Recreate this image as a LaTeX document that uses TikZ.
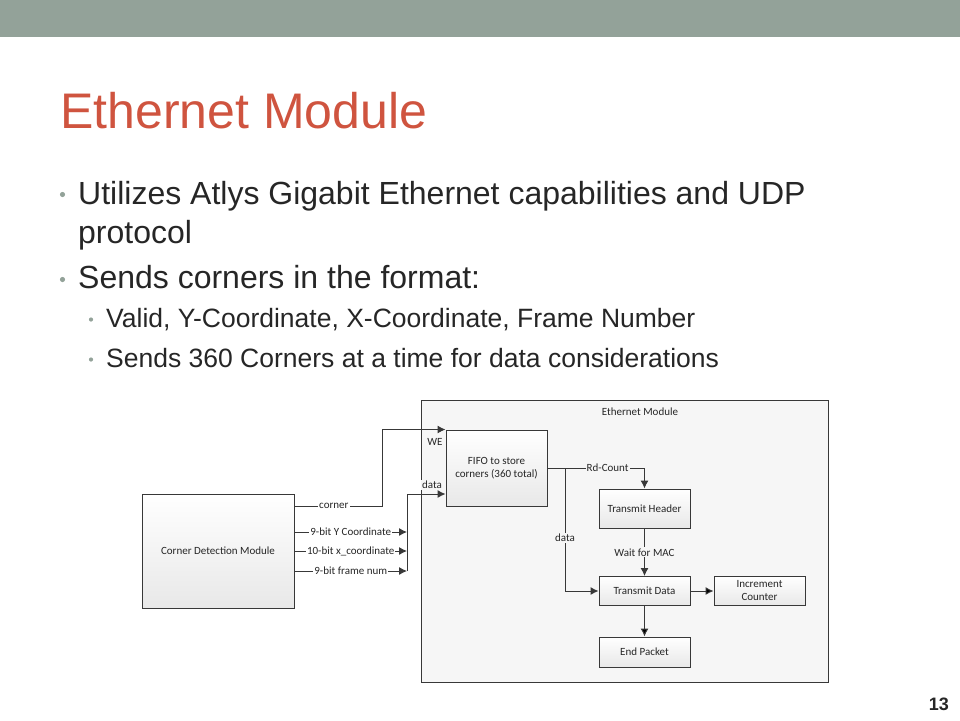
\documentclass[tikz,border=0pt]{standalone}
\usepackage{fontspec}
\setmainfont{Liberation Sans}
\newfontfamily\diagfont{Carlito}
\usetikzlibrary{arrows.meta}
\definecolor{barcol}{HTML}{93A299}
\definecolor{titlecol}{HTML}{CF543F}
\definecolor{txtcol}{HTML}{262626}
\definecolor{linecol}{HTML}{383838}
\definecolor{modfill}{HTML}{F6F6F6}

\begin{document}
\begin{tikzpicture}[x=1pt, y=-1pt,
    blk/.style={draw=linecol, line width=1pt, top color=white, bottom color=black!9,
        minimum width=91pt, minimum height=29pt, inner sep=1pt, align=center,
        font=\diagfont\fontsize{11}{13}\selectfont, text=txtcol},
    lbl/.style={fill=white, inner sep=1pt, font=\diagfont\fontsize{11}{13}\selectfont, text=txtcol},
    lbin/.style={lbl, fill=modfill},
    wire/.style={draw=linecol, line width=1pt},
    bul/.style={anchor=base west, inner sep=0pt, text=txtcol},
    >={Latex[length=8pt,width=8pt]}]
    \useasboundingbox (0,0) rectangle (960,720);
    \fill[barcol] (0,0) rectangle (960,37);

    \node[anchor=base west, inner sep=0pt, text=titlecol, font=\fontsize{50}{60}\selectfont] (title) at (60,128) {Ethernet Module};

    \fill[barcol] (62.5,194.5) circle (2.6);
    \node[bul, font=\fontsize{32}{39}\selectfont] (b1) at (78,204) {Utilizes Atlys Gigabit Ethernet capabilities and UDP};
    \node[bul, font=\fontsize{32}{39}\selectfont] (b1b) at (78,243) {protocol};
    \fill[barcol] (62.5,279.5) circle (2.6);
    \node[bul, font=\fontsize{32}{39}\selectfont] (b2) at (78,288) {Sends corners in the format:};
    \fill[barcol] (91,319.5) circle (2.1);
    \node[bul, font=\fontsize{26.5}{32}\selectfont] (s1) at (106,327) {Valid, Y-Coordinate, X-Coordinate, Frame Number};
    \fill[barcol] (91,359.5) circle (2.1);
    \node[bul, font=\fontsize{26.5}{32}\selectfont] (s2) at (106,367) {Sends 360 Corners at a time for data considerations};

    \node[anchor=base east, inner sep=0pt, text=txtcol, font=\bfseries\fontsize{18}{20}\selectfont] (pnum) at (949,710) {13};

    \node[draw=linecol, line width=1pt, fill=modfill, minimum width=407pt, minimum height=282pt] (eth) at (624.5,541) {};
    \node[lbin] (ethlbl) at (640,412) {Ethernet Module};

    \node[blk, minimum width=152pt, minimum height=114pt] (cdm) at (218,551) {Corner Detection Module};
    \node[blk, minimum width=101pt, minimum height=76pt] (fifo) at (496.5,468) {FIFO to store\\corners (360 total)};
    \node[blk, minimum height=39pt] (th) at (644.5,508.5) {Transmit Header};
    \node[blk] (td) at (644.5,591) {Transmit Data};
    \node[blk] (ic) at (759.5,591) {Increment\\Counter};
    \node[blk, minimum height=30pt] (ep) at (644.5,652) {End Packet};

    \coordinate (wejog) at (382,506);
    \coordinate (bust) at (407,494);
    \coordinate (busb) at (407,571);
    \coordinate (dsplit) at (565,468);

    \draw[wire, ->] (cdm.east |- wejog) -- node[lbl, pos=0.45] {corner} (wejog) |- (fifo.north west);
    \node[lbin] (welbl) at (435,442) {WE};
    \draw[wire, ->] (cdm.east |- 0,532) -- node[lbl] {9-bit Y Coordinate} (bust |- 0,532);
    \draw[wire, ->] (cdm.east |- 0,551) -- node[lbl] {10-bit x\_coordinate} (bust |- 0,551);
    \draw[wire, ->] (cdm.east |- busb) -- node[lbl] {9-bit frame num} (busb);
    \draw[wire, ->] (busb) -- (bust) -- (fifo.west |- bust);
    \node[lbin] (datalbl) at (432,485) {data};

    \draw[wire, ->] (fifo.east) -- node[lbin, pos=0.62] {Rd-Count} (th.north |- fifo.east) -- (th.north);
    \draw[wire, ->] (dsplit) -- node[lbin, pos=0.57] {data} (dsplit |- td.west) -- (td.west);
    \draw[wire, ->] (th) -- node[lbin] {Wait for MAC} (td);
    \draw[wire] (td) edge[->] (ic)
        (td) edge[->] (ep);
\end{tikzpicture}
\end{document}
